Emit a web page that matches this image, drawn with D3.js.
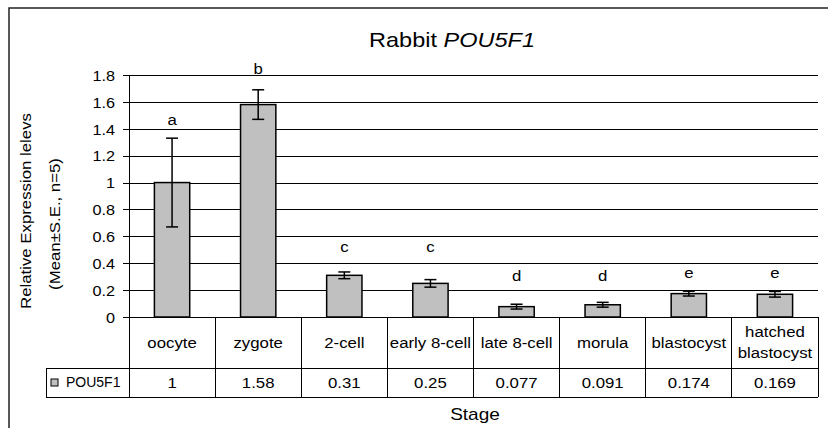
<!DOCTYPE html>
<html>
<head>
    <title>Rabbit POU5F1</title>
    <script src="https://d3js.org/d3.v7.min.js"></script>
    <style>
        body { margin: 0; background: #fff; }
        text { font-family: "Liberation Sans", Arial, sans-serif; fill: #000; }
    </style>
</head>
<body>
    <svg width="828" height="428"></svg>
    <script>
        // Data
        const stages = ["oocyte", "zygote", "2-cell", "early 8-cell", "late 8-cell", "morula", "blastocyst", "hatched blastocyst"];
        const stageLabels = [["oocyte"], ["zygote"], ["2-cell"], ["early 8-cell"], ["late 8-cell"], ["morula"], ["blastocyst"], ["hatched", "blastocyst"]];
        const means = [1, 1.58, 0.31, 0.25, 0.077, 0.091, 0.174, 0.169];
        const errors = [0.33, 0.11, 0.025, 0.028, 0.018, 0.018, 0.018, 0.021];
        const groups = ["a", "b", "c", "c", "d", "d", "e", "e"];
        const groupAt = [1.43, 1.81, 0.484, 0.484, 0.268, 0.268, 0.288, 0.288]; // letter baselines, in data units
        const yTicks = [0, 0.2, 0.4, 0.6, 0.8, 1, 1.2, 1.4, 1.6, 1.8];
        const seriesName = "POU5F1";

        const SX = 1.12; // the original text is drawn a little wide

        const svg = d3.select("svg");
        const plot = {left: 129, right: 818, top: 75, bottom: 317};
        const rowSplit = 368, tableBottom = 397, legendLeft = 46;

        // outer frame (clipped on the right and bottom like the original)
        svg.append("rect")
            .attr("x", 9).attr("y", 8)
            .attr("width", 900).attr("height", 500)
            .attr("fill", "none").attr("stroke", "#222").attr("stroke-width", 1.5);

        const x = d3.scaleBand()
            .domain(stages)
            .range([plot.left, plot.right])
            .padding(0);

        const y = d3.scaleLinear()
            .domain([0, 1.8])
            .range([plot.bottom, plot.top]);

        // stretched text helper
        function wide(sel, tx, ty, sx = SX) {
            return sel.attr("transform", `translate(${tx},${ty}) scale(${sx},1)`);
        }

        // gridlines
        svg.append("g")
            .attr("transform", `translate(${plot.left},0)`)
            .call(d3.axisLeft(y).tickValues(yTicks).tickSize(-(plot.right - plot.left)).tickFormat(""))
            .call(g => g.select(".domain").remove())
            .call(g => g.selectAll("line").attr("stroke", "#000").attr("shape-rendering", "crispEdges"));

        // y axis
        const yAxis = svg.append("g")
            .attr("transform", `translate(${plot.left},0)`)
            .call(d3.axisLeft(y).tickValues(yTicks).tickSize(6).tickSizeOuter(0).tickFormat(d3.format("")));
        yAxis.select(".domain").attr("stroke", "#000").attr("shape-rendering", "crispEdges");
        yAxis.selectAll("line").attr("stroke", "#000").attr("shape-rendering", "crispEdges");
        yAxis.selectAll("text")
            .attr("x", null).attr("dy", "0.36em")
            .style("font-size", "14.5px")
            .each(function() { wide(d3.select(this), -14, 0); });

        // bars
        const barW = x.bandwidth() * 0.41;
        svg.append("g").selectAll("rect")
            .data(stages)
            .join("rect")
            .attr("x", d => x(d) + (x.bandwidth() - barW) / 2)
            .attr("y", (d, i) => y(means[i]))
            .attr("width", barW)
            .attr("height", (d, i) => y(0) - y(means[i]))
            .attr("fill", "#c0c0c0")
            .attr("stroke", "#000")
            .attr("stroke-width", 1.5);

        // error bars
        const err = svg.append("g").attr("stroke", "#000").attr("stroke-width", 1.5);
        stages.forEach((s, i) => {
            const cx = x(s) + x.bandwidth() / 2;
            const lo = y(means[i] - errors[i]), hi = y(means[i] + errors[i]);
            err.append("line").attr("x1", cx).attr("x2", cx).attr("y1", lo).attr("y2", hi);
            err.append("line").attr("x1", cx - 6).attr("x2", cx + 6).attr("y1", lo).attr("y2", lo);
            err.append("line").attr("x1", cx - 6).attr("x2", cx + 6).attr("y1", hi).attr("y2", hi);
        });

        // significance letters
        svg.append("g").selectAll("text")
            .data(stages)
            .join("text")
            .attr("text-anchor", "middle")
            .style("font-size", "15px")
            .text((d, i) => groups[i])
            .each(function(d, i) { wide(d3.select(this), x(d) + x.bandwidth() / 2, y(groupAt[i])); });

        // data table
        const tbl = svg.append("g").attr("stroke", "#000").attr("shape-rendering", "crispEdges");
        tbl.append("line").attr("x1", legendLeft).attr("x2", plot.right).attr("y1", rowSplit).attr("y2", rowSplit);
        tbl.append("line").attr("x1", legendLeft).attr("x2", plot.right).attr("y1", tableBottom).attr("y2", tableBottom);
        tbl.append("line").attr("x1", legendLeft).attr("x2", legendLeft).attr("y1", rowSplit).attr("y2", tableBottom);
        stages.concat([null]).forEach(s => {
            const xx = s === null ? plot.right : x(s);
            tbl.append("line").attr("x1", xx).attr("x2", xx).attr("y1", plot.bottom).attr("y2", tableBottom);
        });

        const head = svg.append("g");
        stages.forEach((s, i) => {
            const cx = x(s) + x.bandwidth() / 2;
            const lines = stageLabels[i];
            const mid = (plot.bottom + rowSplit) / 2;
            lines.forEach((t, k) => {
                const ty = mid + (k - (lines.length - 1) / 2) * 21;
                wide(head.append("text").attr("text-anchor", "middle").attr("dy", "0.35em")
                    .style("font-size", "15px").text(t), cx, ty);
            });
            wide(head.append("text").attr("text-anchor", "middle").attr("dy", "0.35em")
                .style("font-size", "15px").text(String(means[i])), cx, (rowSplit + tableBottom) / 2);
        });

        // legend key inside the table
        svg.append("rect")
            .attr("x", 51).attr("y", 379).attr("width", 7).attr("height", 7)
            .attr("fill", "#c0c0c0").attr("stroke", "#000").attr("stroke-width", 1);
        wide(svg.append("text").attr("dy", "0.35em").style("font-size", "14px").text(seriesName),
            66, (rowSplit + tableBottom) / 2, 1.0);

        // title
        const title = svg.append("text").attr("text-anchor", "middle").style("font-size", "21px");
        title.append("tspan").text("Rabbit ");
        title.append("tspan").style("font-style", "italic").text("POU5F1");
        wide(title, 452, 46.5);

        // axis titles
        wide(svg.append("text").attr("text-anchor", "middle").style("font-size", "17px").text("Stage"), 475, 420);

        svg.append("text")
            .attr("text-anchor", "middle").style("font-size", "15px")
            .attr("transform", `translate(31,211) rotate(-90) scale(${SX},1)`)
            .text("Relative Expression lelevs");
        svg.append("text")
            .attr("text-anchor", "middle").style("font-size", "15px")
            .attr("transform", `translate(60,224) rotate(-90) scale(${SX},1)`)
            .text("(Mean\u00B1S.E., n=5)");
    </script>
</body>
</html>
